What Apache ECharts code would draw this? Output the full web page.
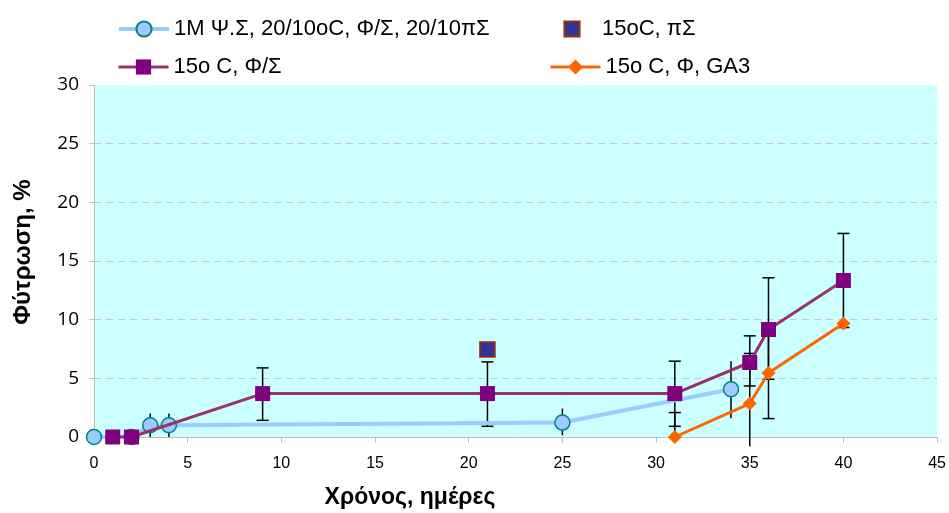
<!DOCTYPE html>
<html>
<head>
<meta charset="utf-8">
<script src="https://cdn.jsdelivr.net/npm/echarts@6/dist/echarts.min.js"></script>
<style>
html,body{margin:0;padding:0;background:#fff;}
#chart{width:949px;height:513px;}
</style>
</head>
<body>
<div id="chart"></div>
<script>
// ---- data ----
const seriesNames = ['1M Ψ.Σ, 20/10oC, Φ/Σ, 20/10πΣ', '15oC, πΣ', '15o C, Φ/Σ', '15o C, Φ, GA3'];
const xTitle = 'Χρόνος, ημέρες';
const yTitle = 'Φύτρωση, %';

const blueX = [0, 2, 3, 4, 25, 34];
const blueY = [0, 0, 1.0, 1.0, 1.23, 4.07];
const blueErrLow = [null, null, 0, 0, 0.15, 1.6];
const blueErrHigh = [null, null, 2.0, 2.0, 2.42, 6.46];

const darkX = [21];
const darkY = [7.46];

const purpleX = [1, 2, 9, 21, 31, 35, 36, 40];
const purpleY = [0, 0, 3.7, 3.7, 3.7, 6.35, 9.16, 13.34];
const purpleErrLow = [null, null, 1.42, 0.91, 0.91, 4.35, 4.92, 9.33];
const purpleErrHigh = [null, null, 5.89, 6.4, 6.46, 8.62, 13.57, 17.35];

const orangeX = [31, 35, 36, 40];
const orangeY = [0, 2.85, 5.46, 9.68];
const orangeErrLow = [0, -0.8, 1.57, null];
const orangeErrHigh = [2.08, 7.12, 9.35, null];

const xTicks = {min: 0, max: 45, interval: 5};
const yTicks = {min: 0, max: 30, interval: 5};

// ---- helpers ----
function pairs(xs, ys) { return xs.map((x, i) => [x, ys[i]]); }
function errData(xs, lo, hi) {
  const out = [];
  xs.forEach((x, i) => { if (lo[i] !== null && hi[i] !== null) out.push([x, lo[i], hi[i]]); });
  return out;
}
function errSeries(data, withCaps) {
  return {
    type: 'custom',
    z: 1,
    silent: true,
    clip: false,
    data: data,
    encode: {x: 0, y: [1, 2]},
    renderItem: function (params, api) {
      const x = api.value(0);
      const lo = api.coord([x, api.value(1)]);
      const hi = api.coord([x, api.value(2)]);
      const half = 6;
      const children = [{
        type: 'line',
        shape: {x1: lo[0], y1: lo[1], x2: hi[0], y2: hi[1]},
        style: {stroke: '#000', lineWidth: 1.5}
      }];
      if (withCaps) {
        children.push({type: 'line', shape: {x1: hi[0] - half, y1: hi[1], x2: hi[0] + half, y2: hi[1]}, style: {stroke: '#000', lineWidth: 1.5}});
        if (api.value(1) >= 0) {
          children.push({type: 'line', shape: {x1: lo[0] - half, y1: lo[1], x2: lo[0] + half, y2: lo[1]}, style: {stroke: '#000', lineWidth: 1.5}});
        }
      }
      return {type: 'group', children: children};
    }
  };
}

const chart = echarts.init(document.getElementById('chart'));
const legendText = {fontFamily: 'Liberation Sans, Arial, sans-serif', fontSize: 22, color: '#000', lineHeight: 24};
function legendAt(name, left, top, lineWidth) {
  return {data: [name], left: left, top: top, itemWidth: 50, itemHeight: 19,
    textStyle: legendText, selectedMode: false, lineStyle: {width: lineWidth}};
}

const option = {
  backgroundColor: '#fff',
  animation: false,
  grid: {left: 94, right: 10, top: 85, bottom: 76, show: true, backgroundColor: '#CCFFFF', borderWidth: 0},
  legend: [
    legendAt(seriesNames[0], 112, 12, 4),
    legendAt(seriesNames[1], 542, 12, 0),
    legendAt(seriesNames[2], 112, 50, 3),
    legendAt(seriesNames[3], 544, 50, 3)
  ],
  xAxis: {
    type: 'value', min: xTicks.min, max: xTicks.max, interval: xTicks.interval,
    axisLine: {show: true, onZero: false, lineStyle: {color: '#BFBFBF', width: 1}},
    axisTick: {show: true, length: 6, lineStyle: {color: '#BFBFBF'}},
    axisLabel: {margin: 19, fontFamily: 'Liberation Sans, Arial, sans-serif', fontSize: 16, color: '#000'},
    splitLine: {show: false}
  },
  yAxis: {
    type: 'value', min: yTicks.min, max: yTicks.max, interval: yTicks.interval,
    axisLine: {show: true, lineStyle: {color: '#BFBFBF', width: 1}},
    axisTick: {show: true, length: 5, lineStyle: {color: '#BFBFBF'}},
    axisLabel: {margin: 15, fontFamily: 'Open Sans, Noto Sans, sans-serif', fontSize: 19, color: '#000'},
    splitLine: {show: true, lineStyle: {color: ['rgba(0,0,0,0)', '#C8C8C8', '#C8C8C8', '#C8C8C8', '#C8C8C8', '#C8C8C8', 'rgba(0,0,0,0)'], type: [7, 5], width: 1}}
  },
  graphic: [
    {type: 'text', x: 410, y: 498, style: {text: xTitle, fontFamily: 'Liberation Sans, Arial, sans-serif', fontWeight: 'bold', fontSize: 23, fill: '#000', align: 'center', verticalAlign: 'middle'}},
    {type: 'text', x: 23, y: 252, rotation: Math.PI / 2, style: {text: yTitle, fontFamily: 'Liberation Sans, Arial, sans-serif', fontWeight: 'bold', fontSize: 24, fill: '#000', align: 'center', verticalAlign: 'middle'}}
  ],
  series: [
    errSeries(errData(blueX, blueErrLow, blueErrHigh), false),
    errSeries(errData(purpleX, purpleErrLow, purpleErrHigh), true),
    errSeries(errData(orangeX, orangeErrLow, orangeErrHigh), true),
    {
      name: seriesNames[0], type: 'line', z: 2, data: pairs(blueX, blueY),
      symbol: 'circle', symbolSize: 15,
      lineStyle: {color: '#99CCFF', width: 4},
      itemStyle: {color: '#99CCFF', borderColor: '#008080', borderWidth: 1.5}
    },
    {
      name: seriesNames[2], type: 'line', z: 3, data: pairs(purpleX, purpleY),
      symbol: 'rect', symbolSize: 15,
      lineStyle: {color: '#993366', width: 3},
      itemStyle: {color: '#800080', borderColor: '#800080', borderWidth: 0}
    },
    {
      name: seriesNames[1], type: 'line', z: 4, data: pairs(darkX, darkY),
      symbol: 'rect', symbolSize: 15,
      lineStyle: {width: 0, opacity: 0},
      itemStyle: {color: '#333399', borderColor: '#993300', borderWidth: 1.5}
    },
    {
      name: seriesNames[3], type: 'line', z: 5, data: pairs(orangeX, orangeY),
      symbol: 'diamond', symbolSize: 14,
      lineStyle: {color: '#FF6600', width: 3},
      itemStyle: {color: '#FF6600', borderColor: '#FF6600', borderWidth: 0}
    }
  ]
};
chart.setOption(option);
</script>
</body>
</html>
